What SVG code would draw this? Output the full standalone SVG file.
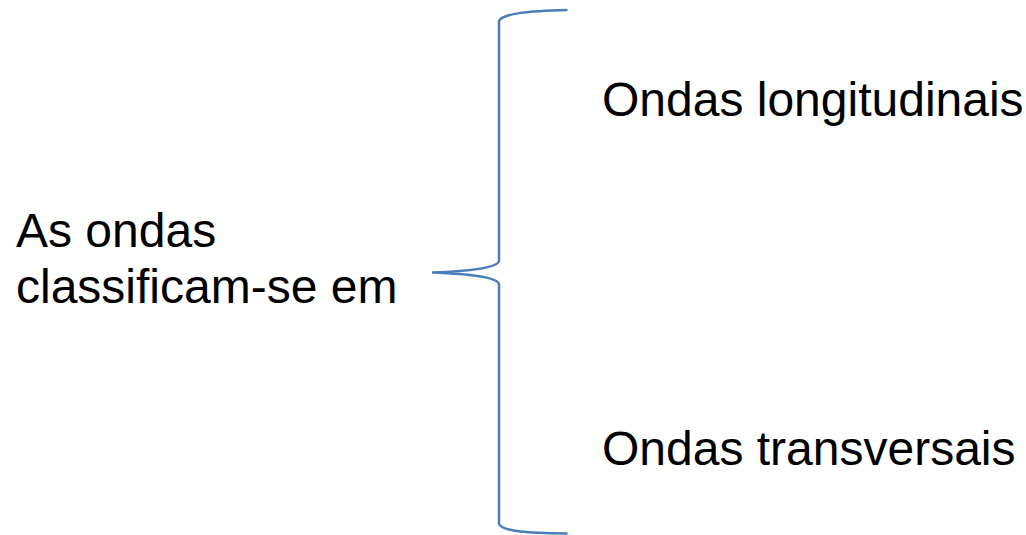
<svg xmlns="http://www.w3.org/2000/svg" width="1026" height="535" viewBox="0 0 1026 535">
<style>
text{font-family:"Liberation Sans",Arial,sans-serif;font-size:48px;fill:#000}
.brace{fill:none;stroke:#4a7ebb;stroke-width:2.5;stroke-linecap:round}
</style>
<rect width="1026" height="535" fill="#fff"/>
<g id="source"><text x="16" y="247">As ondas</text><text x="16" y="303">classificam-se em</text></g>
<g id="connectors"><path class="brace" d="M566.5,10 C530,11 503,13 499,21 L499,261 C497,268 470,271 432,272.5 C470,274 497,277 499,284 L499,524 C503,532 530,533 566.5,533.5"/></g>
<g id="longitudinais"><text x="602" y="116">Ondas longitudinais</text></g>
<g id="transversais"><text x="602" y="465">Ondas transversais</text></g>
</svg>
